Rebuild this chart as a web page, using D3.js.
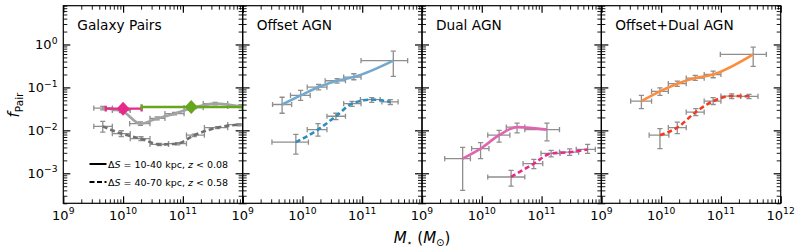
<!DOCTYPE html>
<html><head><meta charset="utf-8">
<script src="https://cdn.jsdelivr.net/npm/d3@7"></script>
<style>body{margin:0;background:#fff}svg{display:block;font-family:"DejaVu Sans",sans-serif}</style>
</head><body><svg id="c" width="797" height="249"></svg>
<script>
// ---------------- data (log10 M*, f, f_lo, f_hi, logM_lo, logM_hi) ----------------
const panelTitles = ["Galaxy Pairs", "Offset AGN", "Dual AGN", "Offset+Dual AGN"];
const xMajorTicks = [1e9, 1e10, 1e11, 1e12];
const yMajorTicks = [1, 1e-1, 1e-2, 1e-3];
const xTickExp = ["9", "10", "11", "12"];
const yTickExp = ["0", "\u22121", "\u22122", "\u22123"];
const legendLabels = ["10-40 kpc, ", "40-70 kpc, "];
const legendZ = ["0.08", "0.58"];

const gpSolid = [
  [9.66, 0.033, 0.030, 0.036, 9.51, 9.82],
  [9.97, 0.029, 0.026, 0.032, 9.82, 10.12],
  [10.29, 0.0143, 0.0130, 0.0158, 10.11, 10.45],
  [10.57, 0.019, 0.0176, 0.0205, 10.45, 10.70],
  [10.86, 0.0245, 0.0230, 0.0262, 10.70, 11.02],
  [11.19, 0.034, 0.032, 0.036, 11.02, 11.34],
  [11.54, 0.042, 0.039, 0.045, 11.34, 11.75],
  [11.97, 0.036, 0.034, 0.039, 11.75, 12.15]
];
const gpDashed = [
  [9.66, 0.0124, 0.0091, 0.0162, 9.51, 9.82],
  [9.97, 0.0084, 0.0072, 0.0098, 9.82, 10.12],
  [10.30, 0.0064, 0.0058, 0.0071, 10.12, 10.45],
  [10.61, 0.0047, 0.0044, 0.0050, 10.45, 10.76],
  [10.91, 0.0049, 0.0046, 0.0052, 10.76, 11.06],
  [11.19, 0.0077, 0.0072, 0.0082, 11.06, 11.36],
  [11.58, 0.0116, 0.0110, 0.0122, 11.36, 11.75],
  [11.94, 0.0136, 0.0128, 0.0144, 11.75, 12.15]
];
const gpPink = [10.0, 0.032, 9.71, 10.31];
const gpGreen = [11.14, 0.035, 10.31, 12.0];

const offSolid = [
  [9.66, 0.040, 0.025, 0.059, 9.50, 9.82],
  [9.97, 0.065, 0.050, 0.085, 9.80, 10.13],
  [10.27, 0.102, 0.088, 0.117, 10.08, 10.41],
  [10.58, 0.143, 0.126, 0.159, 10.38, 10.72],
  [10.86, 0.174, 0.151, 0.208, 10.69, 10.98],
  [11.52, 0.42, 0.18, 0.70, 10.98, 11.76]
];
const offDashed = [
  [9.89, 0.0053, 0.0028, 0.0081, 9.49, 10.10],
  [10.26, 0.0104, 0.0073, 0.0144, 10.08, 10.41],
  [10.56, 0.0213, 0.0178, 0.025, 10.41, 10.72],
  [10.83, 0.042, 0.036, 0.047, 10.69, 10.98],
  [11.16, 0.052, 0.045, 0.058, 10.97, 11.30],
  [11.47, 0.046, 0.040, 0.052, 11.33, 11.60]
];
const dualSolid = [
  [9.68, 0.0022, 0.00040, 0.0040, 9.38, 9.81],
  [9.98, 0.00375, 0.0022, 0.0052, 9.83, 10.12],
  [10.29, 0.0077, 0.0053, 0.010, 10.10, 10.47],
  [10.59, 0.0119, 0.0087, 0.0148, 10.41, 10.72],
  [11.09, 0.0104, 0.0057, 0.0148, 10.72, 11.30]
];
const dualDashed = [
  [10.49, 0.00082, 0.00050, 0.00117, 10.10, 10.72],
  [10.87, 0.00168, 0.00129, 0.0021, 10.69, 11.02],
  [11.16, 0.0029, 0.0024, 0.0034, 10.99, 11.31],
  [11.47, 0.0031, 0.0026, 0.0037, 11.30, 11.62],
  [11.77, 0.0036, 0.0029, 0.0047, 11.58, 11.90]
];
const bothSolid = [
  [9.67, 0.048, 0.032, 0.065, 9.49, 9.84],
  [9.98, 0.081, 0.065, 0.098, 9.84, 10.12],
  [10.27, 0.122, 0.106, 0.14, 10.12, 10.42],
  [10.57, 0.165, 0.146, 0.19, 10.42, 10.72],
  [10.87, 0.20, 0.168, 0.24, 10.72, 11.00],
  [11.54, 0.585, 0.31, 0.865, 10.99, 11.76]
];
const bothDashed = [
  [9.98, 0.0077, 0.00375, 0.011, 9.80, 10.13],
  [10.27, 0.0116, 0.0084, 0.0156, 10.12, 10.42],
  [10.58, 0.0267, 0.022, 0.032, 10.42, 10.72],
  [10.87, 0.048, 0.040, 0.058, 10.72, 11.00],
  [11.18, 0.063, 0.055, 0.071, 11.00, 11.33],
  [11.47, 0.062, 0.055, 0.069, 11.33, 11.62]
];

const panelSeries = [
  [{d: gpSolid, c: "#a3a3a3", dash: null}, {d: gpDashed, c: "#6f6f6f", dash: "5,3"}],
  [{d: offSolid, c: "#74a9cf", dash: null}, {d: offDashed, c: "#2b8cbe", dash: "5,3"}],
  [{d: dualSolid, c: "#df65b0", dash: null}, {d: dualDashed, c: "#e7298a", dash: "5,3"}],
  [{d: bothSolid, c: "#fd8d3c", dash: null}, {d: bothDashed, c: "#f03b20", dash: "5,3"}]
];

// ---------------- layout ----------------
const left0 = 63.3, pw = 179.35, yTop = 5.7, yBot = 203.3;
const errColor = "#8e8e8e";
const svg = d3.select("#c");
const y = d3.scaleLog().domain([2e-4, 8]).range([yBot, yTop]);

const xMinor = [];
[1e9, 1e10, 1e11].forEach(d => { for (let k = 2; k <= 9; k++) xMinor.push(d * k); });
const yMinor = [];
[1e-4, 1e-3, 1e-2, 1e-1, 1].forEach(d => { for (let k = 2; k <= 9; k++) { const v = d * k; if (v >= 2e-4 && v <= 8) yMinor.push(v); } });

const defs = svg.append("defs");

panelTitles.forEach((title, i) => {
  const L = left0 + i * pw, R = L + pw;
  const x = d3.scaleLog().domain([1e9, 1e12]).range([L, R]);
  const g = svg.append("g");
  const P = m => x(Math.pow(10, m));

  defs.append("clipPath").attr("id", "clip" + i)
    .append("rect").attr("x", L).attr("y", yTop).attr("width", pw).attr("height", yBot - yTop);

  // ticks
  const mk = (axis, tx, ty, vals, size, w) => {
    const a = g.append("g").attr("transform", `translate(${tx},${ty})`)
      .call(axis.tickValues(vals).tickSize(-size).tickFormat(""));
    a.select(".domain").remove();
    a.selectAll("line").attr("stroke", "#000").attr("stroke-width", w);
  };
  [[d3.axisBottom(x), 0, yBot], [d3.axisTop(x), 0, yTop]].forEach(([ax, tx, ty]) => {
    mk(ax, tx, ty, xMajorTicks, 7, 1.2);
    mk(ax, tx, ty, xMinor, 4, 0.9);
  });
  [[d3.axisLeft(y), L, 0], [d3.axisRight(y), R, 0]].forEach(([ax, tx, ty]) => {
    mk(ax, tx, ty, yMajorTicks, 7, 1.2);
    mk(ax, tx, ty, yMinor, 4, 0.9);
  });

  // frame
  g.append("rect").attr("x", L).attr("y", yTop).attr("width", pw).attr("height", yBot - yTop)
    .attr("fill", "none").attr("stroke", "#000").attr("stroke-width", 1.2);

  // x tick labels
  xMajorTicks.forEach((t, j) => {
    if (j === 3 && i < 3) return;
    const tx = g.append("text").attr("x", x(t)).attr("y", yBot + 16.5).attr("text-anchor", "middle")
      .attr("font-size", 13);
    tx.append("tspan").text("10");
    tx.append("tspan").attr("dy", -5.5).attr("font-size", 9.2).text(xTickExp[j]);
  });
  if (i === 0) {
    yMajorTicks.forEach((t, j) => {
      const ty = g.append("text").attr("x", 57.5).attr("y", y(t) + 4.7).attr("text-anchor", "end")
        .attr("font-size", 13);
      ty.append("tspan").text("10");
      ty.append("tspan").attr("dy", -5.5).attr("font-size", 9.2).text(yTickExp[j]);
    });
  }

  // title
  g.append("text").attr("x", L + 14).attr("y", 30).attr("font-size", 13.7).text(title);

  // data
  const dg = g.append("g").attr("clip-path", `url(#clip${i})`);
  const series = panelSeries[i];
  series.forEach(s => {
    s.d.forEach(p => {
      const cx = P(p[0]), cy = y(p[1]);
      const e = dg.append("g").attr("stroke", errColor).attr("stroke-width", 1.3).attr("fill", "none");
      e.append("line").attr("x1", cx).attr("x2", cx).attr("y1", y(p[2])).attr("y2", y(p[3]));
      e.append("line").attr("x1", cx - 2.6).attr("x2", cx + 2.6).attr("y1", y(p[2])).attr("y2", y(p[2]));
      e.append("line").attr("x1", cx - 2.6).attr("x2", cx + 2.6).attr("y1", y(p[3])).attr("y2", y(p[3]));
      e.append("line").attr("x1", P(p[4])).attr("x2", P(p[5])).attr("y1", cy).attr("y2", cy);
      e.append("line").attr("x1", P(p[4])).attr("x2", P(p[4])).attr("y1", cy - 2.6).attr("y2", cy + 2.6);
      e.append("line").attr("x1", P(p[5])).attr("x2", P(p[5])).attr("y1", cy - 2.6).attr("y2", cy + 2.6);
    });
  });
  const line = d3.line().x(p => P(p[0])).y(p => y(p[1])).curve(d3.curveMonotoneX);
  series.forEach(s => {
    dg.append("path").datum(s.d).attr("d", line).attr("fill", "none").attr("stroke", s.c)
      .attr("stroke-width", 2.6).attr("stroke-dasharray", s.dash);
  });

  if (i === 0) {
    [[gpPink, "#e7298a"], [gpGreen, "#66a61e"]].forEach(([p, c]) => {
      const cx = P(p[0]), cy = y(p[1]);
      const e = dg.append("g").attr("stroke", c).attr("stroke-width", 2.3);
      e.append("line").attr("x1", P(p[2])).attr("x2", P(p[3])).attr("y1", cy).attr("y2", cy);
      e.append("line").attr("x1", P(p[2])).attr("x2", P(p[2])).attr("y1", cy - 2.8).attr("y2", cy + 2.8);
      e.append("line").attr("x1", P(p[3])).attr("x2", P(p[3])).attr("y1", cy - 2.8).attr("y2", cy + 2.8);
      const r = 7;
      dg.append("path").attr("d", `M${cx},${cy - r}L${cx + r * 0.93},${cy}L${cx},${cy + r}L${cx - r * 0.93},${cy}Z`)
        .attr("fill", c);
    });
    // legend
    [164, 182].forEach((ly, k) => {
      g.append("line").attr("x1", 89.5).attr("x2", 106.5).attr("y1", ly).attr("y2", ly)
        .attr("stroke", "#000").attr("stroke-width", 2).attr("stroke-dasharray", k ? "5,2.5" : null);
      const t = g.append("text").attr("x", 108).attr("y", ly + 3.5).attr("font-size", 9.5);
      t.append("tspan").text("\u0394");
      t.append("tspan").attr("font-style", "italic").text("S");
      t.append("tspan").text(" = " + legendLabels[k]);
      t.append("tspan").attr("font-style", "italic").text("z");
      t.append("tspan").text(" < " + legendZ[k]);
    });
  }
});

// axis labels
const xl = svg.append("text").attr("x", 422).attr("y", 242.5).attr("text-anchor", "middle").attr("font-size", 15);
xl.append("tspan").attr("font-style", "italic").text("M");
xl.append("tspan").attr("dy", 3).attr("font-size", 9.5).text("\u22c6");
xl.append("tspan").attr("dy", -3).text(" (");
xl.append("tspan").attr("font-style", "italic").text("M");
xl.append("tspan").attr("dy", 3).attr("font-size", 10).text("\u2299");
xl.append("tspan").attr("dy", -3).text(")");

const yl = svg.append("text").attr("transform", "translate(19,105) rotate(-90)").attr("text-anchor", "middle").attr("font-size", 15);
yl.append("tspan").attr("font-style", "italic").text("f");
yl.append("tspan").attr("dy", 3.5).attr("font-size", 10.5).text("Pair");
</script></body></html>
